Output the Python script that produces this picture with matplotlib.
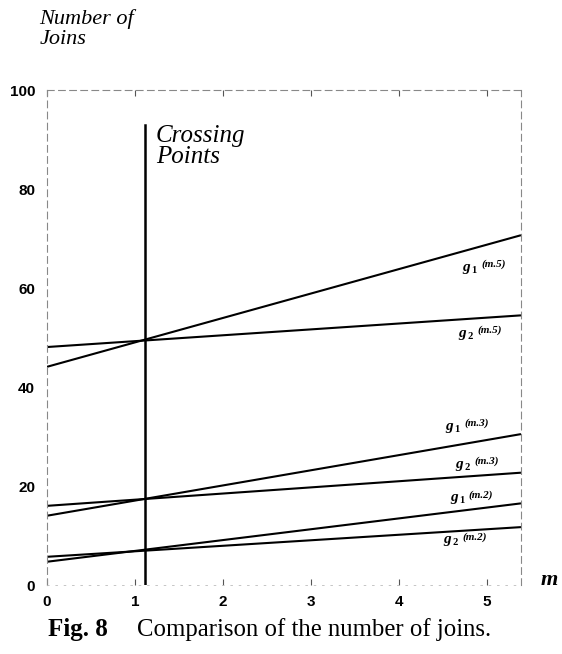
import matplotlib.pyplot as plt

# line end values (m at left edge, m at right edge)
m_ends = [0.0, 5.39]
g1_m5 = [44.1, 70.7]
g2_m5 = [48.1, 54.5]
g1_m3 = [14.0, 30.5]
g2_m3 = [16.0, 22.7]
g1_m2 = [4.7, 16.5]
g2_m2 = [5.7, 11.7]

m_cross = 1.12
cross_top = 93

x_ticks = [0, 1, 2, 3, 4, 5]
y_ticks = [0, 20, 40, 60, 80, 100]

# (g label, superscript, m, value)
labels = [
    (r"$g_{\,1}$", "(m.5)", 4.81, 64.0),
    (r"$g_{\,2}$", "(m.5)", 4.77, 50.7),
    (r"$g_{\,1}$", "(m.3)", 4.62, 31.9),
    (r"$g_{\,2}$", "(m.3)", 4.73, 24.2),
    (r"$g_{\,1}$", "(m.2)", 4.67, 17.4),
    (r"$g_{\,2}$", "(m.2)", 4.60, 8.9),
]

plt.rcParams['mathtext.fontset'] = 'custom'
plt.rcParams['mathtext.it'] = 'Liberation Serif:italic:bold'
plt.rcParams['mathtext.rm'] = 'Liberation Serif:bold'
plt.rcParams['mathtext.bf'] = 'Liberation Serif:bold'

fig = plt.figure(figsize=(5.62, 6.54), dpi=100)
ax = fig.add_axes([0.0836, 0.1055, 0.927 - 0.0836, 0.862 - 0.1055])

for ys in [g1_m5, g2_m5, g1_m3, g2_m3, g1_m2, g2_m2]:
    ax.plot(m_ends, ys, color='black', lw=1.5, solid_capstyle='butt')

ax.plot([m_cross, m_cross], [0, cross_top], color='black', lw=1.8)

for g, sup, x, y in labels:
    ax.text(x, y, g, fontsize=11, ha='center', va='center', color='black')
    ax.annotate(sup, (x, y), xytext=(8, 3), textcoords='offset points',
                fontfamily='Liberation Serif', style='italic', fontweight='bold',
                fontsize=8, ha='left', va='center')

ax.set_xlim(m_ends)
ax.set_ylim(0, 100)
ax.set_xticks(x_ticks)
ax.set_yticks(y_ticks)
ax.set_xticklabels([str(v) for v in x_ticks], fontfamily='Liberation Sans',
                   fontweight='bold', fontsize=11)
ax.set_yticklabels([str(v) for v in y_ticks], fontfamily='Liberation Sans',
                   fontweight='bold', fontsize=11)
ax.tick_params(axis='x', direction='in', length=4, width=0.8, pad=7,
               top=True, color='#555555')
ax.tick_params(axis='y', length=0, pad=8.5)

for side in ['left', 'top', 'right']:
    ax.spines[side].set_color('#888888')
    ax.spines[side].set_linewidth(0.8)
    ax.spines[side].set_linestyle((0, (6, 4)))
ax.spines['bottom'].set_color('#bbbbbb')
ax.spines['bottom'].set_linewidth(0.6)
ax.spines['bottom'].set_linestyle((0, (2, 8)))

ax.text(1.24, 88.7, "Crossing\nPoints", fontfamily='Liberation Serif',
        style='italic', fontsize=18, ha='left', va='center', linespacing=0.95)

fig.text(0.07, 0.956, "Number of\nJoins", fontfamily='Liberation Serif',
         style='italic', fontsize=16, ha='left', va='center', linespacing=1.05)
fig.text(0.993, 0.113, "m", fontfamily='Liberation Serif', style='italic',
         fontweight='bold', fontsize=16, ha='right', va='center')

fig.text(0.085, 0.037, "Fig. 8", fontfamily='Liberation Serif',
         fontweight='bold', fontsize=18, ha='left', va='center')
fig.text(0.243, 0.037, "Comparison of the number of joins.",
         fontfamily='Liberation Serif', fontsize=17.8, ha='left', va='center')

fig.savefig("out.png", dpi=100, facecolor='white')
